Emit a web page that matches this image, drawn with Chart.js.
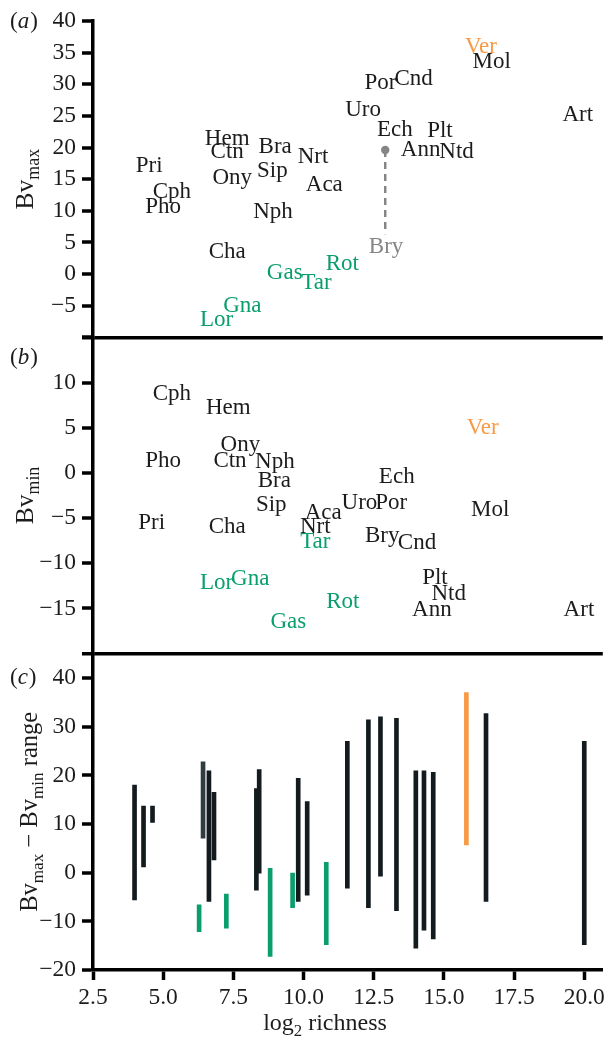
<!DOCTYPE html>
<html><head><meta charset="utf-8">
<script src="https://cdn.jsdelivr.net/npm/chart.js@4/dist/chart.umd.min.js"></script>
<style>html,body{margin:0;padding:0;background:#fff;}canvas{display:block;}</style>
</head><body>
<canvas id="c" width="607" height="1043"></canvas>
<script>
// ---------- DATA ----------
// Panel (a): Bv_max label positions (x = log2 richness, y = baseline value)
const taxaA   = ['Pri','Cph','Pho','Hem','Ctn','Ony','Bra','Sip','Nph','Cha','Nrt','Aca','Uro','Por','Cnd','Ech','Plt','Ann','Ntd','Mol','Ver','Art','Bry','Gas','Tar','Rot','Lor','Gna'];
const labelAx = [4.50,5.31,5.00,7.28,7.28,7.46,8.99,8.89,8.91,7.28,10.34,10.74,12.12,12.74,13.92,13.25,14.86,14.17,15.45,16.70,16.32,19.77,12.94,9.33,10.46,11.38,6.90,7.82];
const labelAy = [16.1,12.1,9.7,20.4,18.3,14.2,19.1,15.4,8.8,2.5,17.6,13.1,25.0,29.2,29.9,21.85,21.6,18.6,18.4,32.5,35.0,24.2,3.3,-0.8,-2.3,0.7,-8.2,-6.0];
// Bry: true Bv_max point and leader line end
const bryX = [12.91, 12.91];
const bryY = [19.6, 6.3];

// Panel (b): Bv_min label positions
const taxaB   = ['Pri','Cph','Pho','Hem','Ctn','Ony','Bra','Sip','Nph','Cha','Nrt','Aca','Uro','Por','Cnd','Ech','Plt','Ann','Ntd','Mol','Ver','Art','Bry','Gas','Tar','Rot','Lor','Gna'];
const labelBx = [4.59,5.31,5.00,7.32,7.38,7.75,8.96,8.85,8.98,7.28,10.42,10.70,11.99,13.12,14.04,13.32,14.68,14.57,15.17,16.65,16.38,19.81,12.80,9.46,10.42,11.40,6.90,8.10];
const labelBy = [-6.2,8.1,0.6,6.5,0.6,2.4,-1.6,-4.2,0.5,-6.7,-6.6,-5.1,-4.0,-4.0,-8.4,-1.1,-12.25,-15.8,-14.1,-4.8,4.25,-15.8,-7.6,-17.2,-8.3,-14.9,-12.9,-12.35];

// Panel (c): Bv_max - Bv_min ranges
const taxaC   = ['Pri','Pho','Cph','Lor','Hem','Ctn','Ony','Gna','Sip','Bra','Gas','Tar','Nrt','Aca','Rot','Uro','Cnd','Por','Ech','Ann','Plt','Ntd','Ver','Mol','Art'];
const richC   = [3.98,4.30,4.62,6.28,6.42,6.63,6.81,7.25,8.32,8.42,8.81,9.61,9.81,10.13,10.81,11.56,12.31,12.74,13.31,14.00,14.29,14.62,15.80,16.50,20.00];
const lowC    = [-5.6,1.2,10.3,-12.1,7.1,-5.9,2.6,-11.4,-3.6,-0.1,-17.2,-7.2,-5.9,-4.6,-14.8,-3.2,-7.2,-0.7,-7.8,-15.5,-11.8,-13.6,5.7,-5.9,-14.8];
const highC   = [18.0,13.7,13.7,-6.6,22.8,20.9,16.5,-4.4,17.3,21.2,0.9,-0.1,19.4,14.6,2.1,27.0,31.4,32.0,31.7,20.9,20.9,20.6,37.0,32.7,27.0];

// Tick settings
const xTicks = [2.5, 20.66, 2.5];        // min, max, step
const yaTicks = [-10, 40, 5];
const ybTicks = [-20, 15, 5];
const ycTicks = [-20, 45, 10];

// ---------- STYLE ----------
const FONT = "'Liberation Serif','Times New Roman','DejaVu Serif',serif";
const GREEN = '#0A9E6E', ORANGE = '#F79A45', GRAY = '#858585', INK = '#1c1c1c', BAR = '#131b1f';
const greenSet = ['Gas','Tar','Rot','Lor','Gna'];
function colA(t){ return t==='Ver'?ORANGE : t==='Bry'?GRAY : greenSet.includes(t)?GREEN : INK; }
function colB(t){ return t==='Ver'?ORANGE : greenSet.includes(t)?GREEN : INK; }
function colC(t){ return t==='Ver'?ORANGE : greenSet.includes(t)?GREEN : (t==='Hem'?'#2f3d43':BAR); }
const fmtY = v => v < 0 ? '\u2212' + (-v) : String(v);

function yScale(tk, hidden, gridAt){
  return {
    type:'linear', position:'left', stack:'panels', stackWeight:1,
    min:tk[0], max:tk[1], offset:false,
    ticks:{stepSize:tk[2], includeBounds:false, autoSkip:false, padding:6, color:INK, font:{family:FONT, size:23.5},
      callback:v => hidden.includes(v) ? '' : fmtY(v)},
    grid:{drawOnChartArea:true, drawTicks:true, tickLength:11, tickWidth:3.5, tickColor:'#000',
      color:c => (c.tick && c.tick.value===gridAt) ? '#000' : 'rgba(0,0,0,0)',
      lineWidth:c => (c.tick && c.tick.value===gridAt) ? 3.5 : 0},
    border:{display:true, color:'#000', width:3.5},
    afterFit:s => { s.width = 93; s.paddingTop = 0; s.paddingBottom = 0; }
  };
}

const textPlugin = {
  id:'textLabels',
  afterDatasetsDraw(chart){
    const ctx = chart.ctx;
    chart.data.datasets.forEach((ds,i) => {
      if (!ds.textLabels) return;
      const meta = chart.getDatasetMeta(i);
      ctx.save();
      ctx.font = '23px ' + FONT;
      ctx.textAlign = 'center'; ctx.textBaseline = 'alphabetic';
      meta.data.forEach((pt,j) => { ctx.fillStyle = ds.textColors[j]; ctx.fillText(ds.textLabels[j], pt.x, pt.y); });
      ctx.restore();
    });
  }
};

function drawParts(ctx, parts, size, cx, cy, rotate){
  ctx.save();
  ctx.translate(cx, cy);
  if (rotate) ctx.rotate(-Math.PI/2);
  ctx.textBaseline = 'alphabetic'; ctx.textAlign = 'left'; ctx.fillStyle = INK;
  let total = 0;
  parts.forEach(p => { ctx.font = (p.it?'italic ':'') + (p.sub ? size*0.7 : size) + 'px ' + FONT; p.w = ctx.measureText(p.t).width; total += p.w; });
  let x = -total/2;
  parts.forEach(p => {
    ctx.font = (p.it?'italic ':'') + (p.sub ? size*0.7 : size) + 'px ' + FONT;
    ctx.fillText(p.t, x, p.sub ? size*0.24 : 0);
    x += p.w;
  });
  ctx.restore();
}

const titlePlugin = {
  id:'titles',
  afterDraw(chart){
    const ctx = chart.ctx, s = chart.scales;
    const mid = sc => (sc.top + sc.bottom)/2;
    drawParts(ctx, [{t:'Bv'},{t:'max',sub:true}], 25.5, 33, mid(s.ya), true);
    drawParts(ctx, [{t:'Bv'},{t:'min',sub:true}], 25.5, 33, mid(s.yb), true);
    drawParts(ctx, [{t:'Bv'},{t:'max',sub:true},{t:' \u2212 Bv'},{t:'min',sub:true},{t:' range'}], 24.5, 37, mid(s.yc), true);
    drawParts(ctx, [{t:'log'},{t:'2',sub:true},{t:' richness'}], 24, 325, 1030, false);
    // panel tags
    const tags = [['a', s.ya.getPixelForValue(38.9)], ['b', s.yb.getPixelForValue(12.1)], ['c', s.yc.getPixelForValue(38.8)]];
    tags.forEach(([l,y]) => {
      ctx.save(); ctx.fillStyle = INK; ctx.textBaseline='alphabetic'; ctx.textAlign='left';
      let x = 10;
      ctx.font = '23px ' + FONT; ctx.fillText('(', x, y); x += ctx.measureText('(').width;
      ctx.font = 'italic 23px ' + FONT; ctx.fillText(l, x, y); x += ctx.measureText(l).width + 1;
      ctx.font = '23px ' + FONT; ctx.fillText(')', x, y);
      ctx.restore();
    });
  }
};

const dsA = {type:'scatter', xAxisID:'x', yAxisID:'ya', pointRadius:0, data: taxaA.map((t,i)=>({x:labelAx[i], y:labelAy[i]})), textLabels:taxaA, textColors:taxaA.map(colA)};
const dsB = {type:'scatter', xAxisID:'x', yAxisID:'yb', pointRadius:0, data: taxaB.map((t,i)=>({x:labelBx[i], y:labelBy[i]})), textLabels:taxaB, textColors:taxaB.map(colB)};
const dsBry = {type:'line', xAxisID:'x', yAxisID:'ya', data: bryX.map((x,i)=>({x, y:bryY[i]})),
  borderColor:GRAY, borderWidth:2.5, borderDash:[7,5], pointRadius:[4.2,0], pointBackgroundColor:GRAY, pointBorderWidth:0, fill:false};
const dsC = {type:'bar', xAxisID:'x', yAxisID:'yc', data: taxaC.map((t,i)=>({x:richC[i], y:[lowC[i], highC[i]]})),
  backgroundColor: taxaC.map(colC), borderWidth:0, barThickness:4, grouped:false};

new Chart(document.getElementById('c'), {
  type:'scatter',
  data:{datasets:[dsC, dsBry, dsA, dsB]},
  options:{
    responsive:false, animation:false, devicePixelRatio:1,
    layout:{padding:{top:21, left:0, right:0, bottom:0}},
    plugins:{legend:{display:false}, tooltip:{enabled:false}},
    scales:{
      yc: yScale(ycTicks, [45], null),
      yb: yScale(ybTicks, [-20, 15], -20),
      ya: yScale(yaTicks, [-10], -10),
      x:{type:'linear', position:'bottom', min:xTicks[0], max:xTicks[1], offset:false,
        ticks:{stepSize:xTicks[2], includeBounds:false, autoSkip:false, padding:4, color:INK, font:{family:FONT, size:23.5}, maxRotation:0,
          callback:v => v.toFixed(1)},
        grid:{drawOnChartArea:false, drawTicks:true, tickLength:10, tickWidth:3.5, tickColor:'#000', offset:false},
        border:{display:true, color:'#000', width:3.5},
        afterFit:s => { s.height = 73; s.paddingLeft = 0; s.paddingRight = 0; }
      }
    }
  },
  plugins:[textPlugin, titlePlugin]
});
</script>
</body></html>
